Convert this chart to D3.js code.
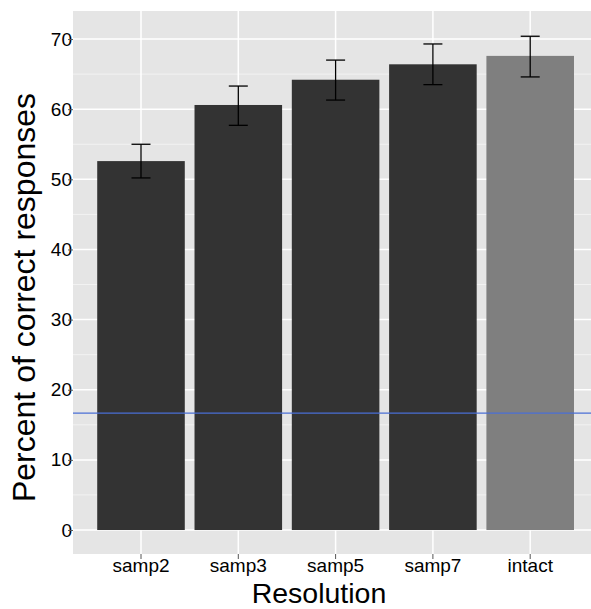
<!DOCTYPE html>
<html>
<head>
<meta charset="utf-8">
<script src="https://cdn.jsdelivr.net/npm/d3@7"></script>
<style>
  body { margin: 0; background: #fff; }
  svg { display: block; font-family: "Liberation Sans", Arial, sans-serif; }
</style>
</head>
<body>
<div class="chart"></div>
<script>
// data
var categories = ['samp2', 'samp3', 'samp5', 'samp7', 'intact'];
var values = [52.6, 60.6, 64.2, 66.4, 67.6];
var lower = [50.2, 57.7, 61.3, 63.5, 64.6];
var upper = [55.0, 63.3, 67.0, 69.3, 70.4];
var barColors = ['#333333', '#333333', '#333333', '#333333', '#7f7f7f'];
var yTicks = [0, 10, 20, 30, 40, 50, 60, 70];
var yMinor = [5, 15, 25, 35, 45, 55, 65];
var chance = 16.67;

var w = 591
  , h = 609
  , panel = { left: 73, top: 11, right: 591, bottom: 554 };

var svg = d3.select('.chart')
            .append('svg')
            .attr('width', w)
            .attr('height', h);

var x = d3.scaleBand()
          .domain(categories)
          .range([92.35, 578.85])
          .paddingInner(0.1)
          .paddingOuter(0.05);

var y = d3.scaleLinear()
          .domain([-3.42, 74])
          .range([panel.bottom, panel.top]);

var cx = function (d) { return x(d) + x.bandwidth() / 2; };

// panel background
svg.append('rect')
    .attr('x', panel.left)
    .attr('y', panel.top)
    .attr('width', panel.right - panel.left)
    .attr('height', panel.bottom - panel.top)
    .attr('fill', '#e5e5e5');

// minor grid
svg.selectAll('line.minor')
    .data(yMinor)
    .enter()
    .append('line')
    .attr('class', 'minor')
    .attr('x1', panel.left)
    .attr('x2', panel.right)
    .attr('y1', function (d) { return y(d); })
    .attr('y2', function (d) { return y(d); })
    .attr('stroke', '#f2f2f2')
    .attr('stroke-width', 1);

// major grid
svg.selectAll('line.hmajor')
    .data(yTicks)
    .enter()
    .append('line')
    .attr('class', 'hmajor')
    .attr('x1', panel.left)
    .attr('x2', panel.right)
    .attr('y1', function (d) { return y(d); })
    .attr('y2', function (d) { return y(d); })
    .attr('stroke', '#ffffff')
    .attr('stroke-width', 1.5);

svg.selectAll('line.vmajor')
    .data(categories)
    .enter()
    .append('line')
    .attr('class', 'vmajor')
    .attr('x1', cx)
    .attr('x2', cx)
    .attr('y1', panel.top)
    .attr('y2', panel.bottom)
    .attr('stroke', '#ffffff')
    .attr('stroke-width', 1.5);

// bars
svg.selectAll('rect.bar')
    .data(categories)
    .enter()
    .append('rect')
    .attr('class', 'bar')
    .attr('x', function (d) { return x(d); })
    .attr('width', x.bandwidth())
    .attr('y', function (d, i) { return y(values[i]); })
    .attr('height', function (d, i) { return y(0) - y(values[i]); })
    .attr('fill', function (d, i) { return barColors[i]; });

// error bars
var err = svg.selectAll('g.err')
    .data(categories)
    .enter()
    .append('g')
    .attr('class', 'err')
    .attr('stroke', '#000')
    .attr('stroke-width', 1.3);

err.append('line')
    .attr('x1', cx).attr('x2', cx)
    .attr('y1', function (d, i) { return y(upper[i]); })
    .attr('y2', function (d, i) { return y(lower[i]); });

[upper, lower].forEach(function (arr) {
  err.append('line')
      .attr('x1', function (d) { return cx(d) - 9.5; })
      .attr('x2', function (d) { return cx(d) + 9.5; })
      .attr('y1', function (d, i) { return y(arr[i]); })
      .attr('y2', function (d, i) { return y(arr[i]); });
});

// chance line
svg.append('line')
    .attr('x1', panel.left)
    .attr('x2', panel.right)
    .attr('y1', y(chance))
    .attr('y2', y(chance))
    .attr('stroke', '#4a6fd6')
    .attr('stroke-width', 1.3);

// axes
var yAxis = svg.append('g')
    .attr('transform', 'translate(' + panel.left + ',0)')
    .call(d3.axisLeft(y).tickValues(yTicks).tickSize(5).tickPadding(-4));
var xAxis = svg.append('g')
    .attr('transform', 'translate(0,' + panel.bottom + ')')
    .call(d3.axisBottom(x).tickSize(5).tickPadding(0));

[yAxis, xAxis].forEach(function (ax) {
  ax.select('.domain').remove();
  ax.selectAll('.tick line').attr('stroke', '#555');
  ax.selectAll('.tick text')
      .attr('fill', '#000')
      .style('font-size', '19px')
      .style('font-family', '"Liberation Sans", Arial, sans-serif');
});
// tick marks drawn over labels, as in the reference
yAxis.selectAll('.tick line').raise();

// titles
svg.append('text')
    .attr('x', 319)
    .attr('y', 603)
    .attr('text-anchor', 'middle')
    .style('font-size', '28.5px')
    .text('Resolution');

svg.append('text')
    .attr('transform', 'translate(35,297.5) rotate(-90)')
    .attr('text-anchor', 'middle')
    .style('font-size', '32px')
    .text('Percent of correct responses');
</script>
</body>
</html>
